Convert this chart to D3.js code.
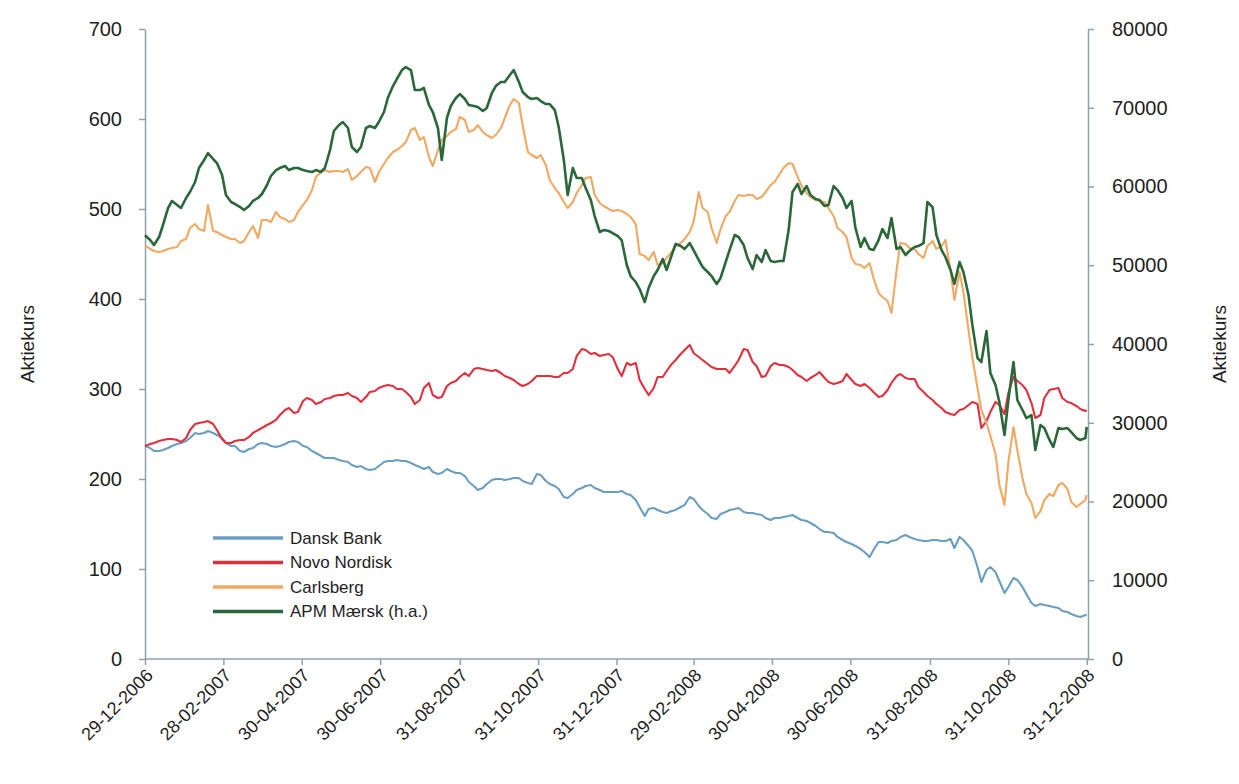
<!DOCTYPE html>
<html>
<head>
<meta charset="utf-8">
<script src="https://cdn.jsdelivr.net/npm/d3@7"></script>
<style>
  html, body { margin: 0; padding: 0; background: #ffffff; }
  svg { display: block; font-family: "Liberation Sans", Arial, sans-serif; }
</style>
</head>
<body>
<svg id="chart" width="1239" height="784"></svg>
<script>
// Quotes are sampled twice a week: Friday closes (from 29-12-2006, plus the
// final close 31-12-2008) and Tuesday closes (from 02-01-2007).
const fridayDates = d3.timeFriday
  .range(new Date(2006, 11, 29), new Date(2008, 11, 27))
  .concat([new Date(2008, 11, 31)]);
const tuesdayDates = d3.timeTuesday
  .range(new Date(2006, 11, 30), new Date(2008, 11, 31));

// ---- Dansk Bank (DKK) ----
const danskeBankFri = [
  236.7,231.1,232.2,236.7,240,245.6,250,253.3,248.9,240,
  236.7,230,234.4,240,236.7,236.7,241.1,241.1,235.6,228.9,
  223.3,223.3,220,215.6,214.4,210,214.4,220,221.1,220,
  215.6,211.1,207.8,206.7,208.9,206.7,196.7,187.8,194.4,200,
  198.9,201.1,197.8,194.4,204.4,194.4,188.9,178.9,187.8,192.2,
  190,185.6,185.6,186.7,182.2,168.9,166.7,165.6,162.2,165.6,
  171.1,177.8,165.6,156.7,161.1,165.6,167.8,162.2,161.1,156.7,
  156.7,157.8,160,154.4,151.1,144.4,141.1,135.6,130,125.6,
  118.9,121.1,130,131.1,135.6,135.6,132.2,131.1,132.2,131.1,
  123.3,132.2,120,85.6,102.2,86.7,80,87.8,72.2,58.9,
  60,57.8,53.3,50,46.7,48.9
];
const danskeBankTue = [
  234.4,231.1,234.4,238.9,242.2,251.1,251.1,251.1,245.6,236.7,
  231.1,233.3,238.9,238.9,235.6,238.9,242.2,236.7,231.1,225.6,
  223.3,221.1,218.9,213.3,211.1,211.1,218.9,220,220,217.8,
  213.3,213.3,205.6,211.1,206.7,203.3,192.2,190,198.9,200,
  200,201.1,195.6,205.6,197.8,192.2,180,183.3,190,193.3,
  187.8,185.6,185.6,183.3,176.7,158.9,167.8,163.3,164.4,168.9,
  180,170,161.1,155.6,163.3,166.7,163.3,162.2,160,154.4,
  156.7,158.9,156.7,153.3,147.8,141.1,140,132.2,127.8,122.2,
  113.3,130,128.9,132.2,137.8,133.3,131.1,132.2,131.1,133.3,
  135.6,125.6,102.2,98.9,96.7,73.3,90,80,62.2,61.1,
  58.9,56.7,52.2,47.8,48.9
];

// ---- Novo Nordisk (DKK) ----
const novoNordiskFri = [
  236.7,240,243.3,244.4,241.1,254.4,262.2,264.4,254.4,240,
  242.2,243.3,251.1,256.7,262.2,271.1,278.9,274.4,290,283.3,
  288.9,292.2,293.3,292.2,285.6,296.7,301.1,304.4,300,296.7,
  283.3,301.1,293.3,291.1,306.7,313.3,314.4,323.3,321.1,321.1,
  314.4,310,303.3,308.9,314.4,314.4,313.3,317.8,336.7,343.3,
  340,337.8,335.6,314.4,326.7,310,293.3,313.3,320,332.2,
  343.3,340,332.2,324.4,322.2,317.8,332.2,343.3,325.6,314.4,
  328.9,326.7,321.1,313.3,312.2,318.9,307.8,306.7,316.7,305.6,
  305.6,296.7,292.2,306.7,316.7,311.1,302.2,292.2,283.3,274.4,
  271.1,277.8,285.6,256.7,274.4,282.2,295.6,308.9,298.9,267.8,
  290,300,290,284.4,277.8,276.7
];
const novoNordiskTue = [
  238.9,242.2,244.4,243.3,245.6,261.1,263.3,261.1,244.4,240,
  243.3,246.7,254.4,260,265.6,276.7,273.3,286.7,287.8,285.6,
  290,293.3,295.6,290,291.1,297.8,303.3,303.3,300,291.1,
  287.8,306.7,290,303.3,308.9,317.8,322.2,322.2,320,317.8,
  312.2,305.6,305.6,314.4,314.4,313.3,317.8,322.2,344.4,338.9,
  336.7,338.9,322.2,328.9,328.9,300,301.1,313.3,327.8,338.9,
  348.9,335.6,327.8,322.2,322.2,325.6,344.4,330,313.3,325.6,
  326.7,324.4,315.6,308.9,315.6,312.2,305.6,308.9,310,303.3,
  301.1,291.1,298.9,314.4,312.2,311.1,296.7,287.8,278.9,272.2,
  276.7,282.2,283.3,264.4,285.6,272.2,313.3,304.4,284.4,271.1,
  298.9,301.1,285.6,281.1,275.6
];

// ---- Carlsberg (DKK) ----
const carlsbergFri = [
  460,453.3,453.3,456.7,464.4,478.9,477.8,504.4,474.4,468.9,
  466.7,464.4,481.1,487.8,485.6,491.1,485.6,496.7,510,535.6,
  543.3,542.2,541.1,532.2,541.1,545.6,541.1,556.7,565.6,574.4,
  590,580,547.8,576.7,585.6,602.2,585.6,593.3,582.2,582.2,
  601.1,622.2,592.2,560,560,532.2,517.8,501.1,517.8,534.4,
  515.6,503.3,497.8,497.8,491.1,450,443.3,437.8,445.6,458.9,
  466.7,485.6,501.1,478.9,477.8,496.7,515.6,515.6,511.1,518.9,
  530,545.6,550,525.6,513.3,508.9,501.1,478.9,468.9,438.9,
  434.4,423.3,402.2,384.4,462.2,456.7,450,458.9,455.6,465.6,
  398.9,407.8,334.4,276.7,247.8,193.3,218.9,232.2,183.3,156.7,
  176.7,181.1,195.6,174.4,172.2,182.2
];
const carlsbergTue = [
  455.6,452.2,455.6,457.8,466.7,483.3,475.6,475.6,471.1,466.7,
  462.2,474.4,467.8,487.8,496.7,488.9,487.8,504.4,521.1,541.1,
  541.1,542.2,544.4,536.7,546.7,530,550,563.3,570,587.8,
  576.7,557.8,565.6,581.1,588.9,598.9,587.8,585.6,578.9,590,
  615.6,617.8,563.3,556.7,548.9,523.3,507.8,507.8,526.7,535.6,
  506.7,500,498.9,494.4,483.3,447.8,452.2,440,452.2,462.2,
  474.4,518.9,496.7,462.2,492.2,508.9,514.4,515.6,513.3,526.7,
  538.9,551.1,535.6,517.8,510,507.8,492.2,474.4,445.6,437.8,
  440,406.7,397.8,432.2,461.1,455.6,445.6,464.4,458.9,432.2,
  430,365.6,301.1,262.2,227.8,171.1,257.8,201.1,173.3,164.4,
  183.3,193.3,188.9,168.9,176.7
];

// ---- A.P. Møller-Mærsk B (DKK, right-hand axis) ----
const apmMaerskFri = [
  53800,52570,55110,58160,57270,59300,62350,64250,62980,58920,
  57780,57010,58160,59050,61330,62350,62090,62350,61970,62090,
  62350,67050,68190,65010,65010,67680,68190,71240,73650,75170,
  72250,72510,69460,63360,70220,71740,70350,70090,69970,72760,
  73270,74790,72000,71110,70850,70470,67550,58920,61080,59810,
  56250,54470,54090,53200,48630,46980,47110,49400,49400,52700,
  52060,51930,49780,48630,48380,51930,53590,50920,51300,51930,
  50410,50540,59300,59050,58920,58280,57650,59550,57270,54730,
  53460,51930,54600,56000,52320,51810,52440,58030,53840,51050,
  47620,49140,42410,37710,36320,32630,32890,32890,30600,26540,
  29330,26920,29210,28820,27810,29460
];
const apmMaerskTue = [
  53200,53590,57270,57650,58540,60570,63360,63490,61460,58030,
  57390,57520,58540,60190,62090,62600,62350,62090,61840,61840,
  64630,67810,67430,64380,67430,67430,69460,72760,74790,74790,
  72250,70350,67430,68700,71240,71110,70220,69590,71870,73270,
  74160,73270,71360,71240,70470,69710,63360,62350,61080,58280,
  54220,54350,53710,50030,47870,45330,48630,50790,51300,52440,
  52820,50670,49140,47620,50410,53840,52570,49520,50410,50540,
  50540,54470,60320,60060,58410,57520,60060,58540,58160,52320,
  52060,53200,53460,52060,51300,52320,52820,57390,51930,49400,
  50410,46220,38220,41650,34790,28440,37710,31620,30980,29710,
  27810,29330,29330,28060,28060
];

const seriesNames = ["Dansk Bank", "Novo Nordisk", "Carlsberg", "APM Mærsk (h.a.)"];
const seriesColors = ["#6a9ec0", "#e0303c", "#f0a862", "#2b6839"];

const xTickLabels = [
  "29-12-2006","28-02-2007","30-04-2007","30-06-2007","31-08-2007","31-10-2007",
  "31-12-2007","29-02-2008","30-04-2008","30-06-2008","31-08-2008","31-10-2008","31-12-2008"
];
const leftTicks = [0, 100, 200, 300, 400, 500, 600, 700];
const rightTicks = [0, 10000, 20000, 30000, 40000, 50000, 60000, 70000, 80000];

const axisColor = "#8ba2b2";
const textColor = "#1e1e1e";

const svg = d3.select("#chart");
const plot = { left: 145, right: 1088, top: 29, bottom: 659 };

const parseDay = d3.timeParse("%d-%m-%Y");
const fmtDay = d3.timeFormat("%d-%m-%Y");

const x = d3.scaleTime()
  .domain([new Date(2006, 11, 29), new Date(2009, 0, 1)])
  .range([plot.left, plot.right]);
const yLeft = d3.scaleLinear().domain([0, 700]).range([plot.bottom, plot.top]);
const yRight = d3.scaleLinear().domain([0, 80000]).range([plot.bottom, plot.top]);

function styleAxis(g, size) {
  g.select(".domain").attr("stroke", axisColor).attr("stroke-width", 1.5);
  g.selectAll(".tick line").attr("stroke", axisColor).attr("stroke-width", 1.5);
  g.selectAll(".tick text")
    .attr("fill", textColor)
    .style("font-size", size + "px")
    .style("font-family", '"Liberation Sans", Arial, sans-serif');
}

// Left axis
svg.append("g")
  .attr("transform", `translate(${plot.left},0)`)
  .call(d3.axisLeft(yLeft).tickValues(leftTicks).tickSize(6).tickSizeOuter(0).tickPadding(17))
  .call(g => styleAxis(g, 20));

// Right axis
svg.append("g")
  .attr("transform", `translate(${plot.right},0)`)
  .call(d3.axisRight(yRight).tickValues(rightTicks).tickFormat(d3.format("d"))
    .tickSize(6).tickSizeOuter(0).tickPadding(18))
  .call(g => styleAxis(g, 20));

// Bottom date axis with slanted labels
const xAxisG = svg.append("g")
  .attr("transform", `translate(0,${plot.bottom})`)
  .call(d3.axisBottom(x)
    .tickValues(xTickLabels.map(parseDay))
    .tickFormat(fmtDay)
    .tickSize(6)
    .tickSizeOuter(0))
  .call(g => styleAxis(g, 18));
xAxisG.select(".domain").attr("d", `M${plot.left},0H${plot.right}`);
xAxisG.selectAll(".tick text")
  .attr("x", 0).attr("y", 0).attr("dy", "0.35em")
  .attr("text-anchor", "end")
  .attr("transform", "translate(4,13) rotate(-45)");

// Axis titles
[34, 1226].forEach(tx => {
  svg.append("text")
    .attr("transform", `translate(${tx},${(plot.top + plot.bottom) / 2}) rotate(-90)`)
    .attr("text-anchor", "middle")
    .attr("fill", textColor)
    .style("font-size", "19px")
    .text("Aktiekurs");
});

// Merge the Friday and Tuesday samples of one stock into a dated series
function mergeQuotes(fri, tue) {
  const rows = fri.map((v, k) => ({ date: fridayDates[k], value: v }))
    .concat(tue.map((v, k) => ({ date: tuesdayDates[k], value: v })));
  return rows.sort((a, b) => a.date - b.date);
}

const series = [
  { rows: mergeQuotes(danskeBankFri, danskeBankTue), scale: yLeft },
  { rows: mergeQuotes(novoNordiskFri, novoNordiskTue), scale: yLeft },
  { rows: mergeQuotes(carlsbergFri, carlsbergTue), scale: yLeft },
  { rows: mergeQuotes(apmMaerskFri, apmMaerskTue), scale: yRight }
];

series.forEach((s, i) => {
  const line = d3.line()
    .x(d => x(d.date))
    .y(d => s.scale(d.value));
  svg.append("path")
    .datum(s.rows)
    .attr("fill", "none")
    .attr("stroke", seriesColors[i])
    .attr("stroke-width", i === 3 ? 2.6 : 2.1)
    .attr("stroke-linejoin", "round")
    .attr("d", line);
});

// Legend
const legend = svg.append("g").attr("transform", "translate(213,538)");
seriesNames.forEach((name, i) => {
  const row = legend.append("g").attr("transform", `translate(0,${i * 24.5})`);
  row.append("line")
    .attr("x1", 0).attr("x2", 70).attr("y1", 0).attr("y2", 0)
    .attr("stroke", seriesColors[i])
    .attr("stroke-width", 3.5);
  row.append("text")
    .attr("x", 77).attr("y", 0).attr("dy", "0.35em")
    .attr("fill", textColor)
    .style("font-size", "17px")
    .text(name);
});
</script>
</body>
</html>
